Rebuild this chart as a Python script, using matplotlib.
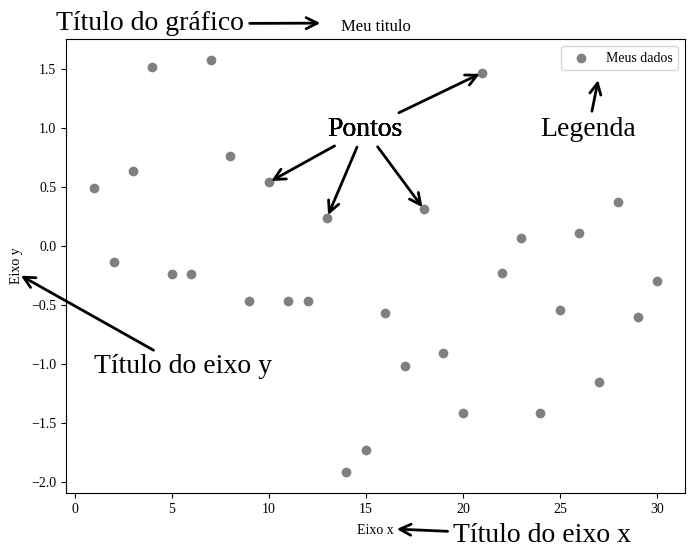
import matplotlib
matplotlib.use("Agg")
import matplotlib.pyplot as plt

plt.rcParams['font.family'] = ['Liberation Serif', 'DejaVu Serif']

# dados
x = list(range(1, 31))
y = [0.49, -0.14, 0.64, 1.52, -0.24, -0.24, 1.58, 0.76, -0.47, 0.54,
     -0.47, -0.47, 0.24, -1.92, -1.73, -0.57, -1.02, 0.31, -0.91, -1.42,
     1.47, -0.23, 0.07, -1.42, -0.54, 0.11, -1.15, 0.37, -0.60, -0.30]

pontos_idx = [9, 12, 17, 20]  # pontos apontados por "Pontos"

fig = plt.figure(figsize=(6.94, 5.57), dpi=100)
ax = fig.add_axes([0.0951, 0.1149, 0.892, 0.815])

ax.scatter(x, y, color='gray', label='Meus dados')
ax.set_title('Meu titulo')
ax.set_xlabel('Eixo x', labelpad=6)
ax.set_ylabel('Eixo y', labelpad=6)
ax.legend(loc='upper right')

arrow = dict(arrowstyle='->', lw=2, color='black')
fs = 20

ax.annotate('Título do gráfico', xy=(12.8, 1.89), xytext=(-0.95, 1.885),
            fontsize=fs, va='center', arrowprops=arrow, annotation_clip=False)

for i in pontos_idx:
    ax.annotate('Pontos', xy=(x[i], y[i]), xytext=(13, 0.99),
                fontsize=fs, va='center', arrowprops=arrow)

ax.annotate('Legenda', xy=(27, 1.43), xytext=(24, 0.99),
            fontsize=fs, va='center', arrowprops=arrow)

ax.annotate('Título do eixo y', xy=(-2.9, -0.24), xytext=(1, -1.025),
            fontsize=fs, va='center', arrowprops=arrow, annotation_clip=False)

ax.annotate('Título do eixo x', xy=(16.45, -2.4), xytext=(19.5, -2.455),
            fontsize=fs, va='center', arrowprops=arrow, annotation_clip=False)

fig.savefig('out.png', dpi=100)
